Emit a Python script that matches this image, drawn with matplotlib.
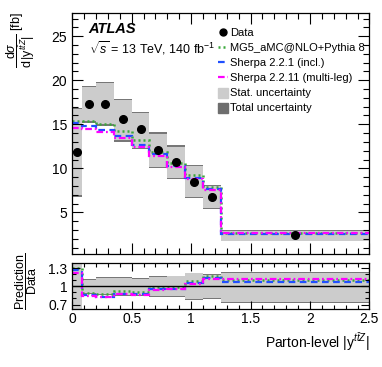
import numpy as np
import matplotlib
matplotlib.use('Agg')
import matplotlib.pyplot as plt
from matplotlib.lines import Line2D
from matplotlib.patches import Patch

plt.rcParams['font.family'] = ['Liberation Sans', 'DejaVu Sans']
plt.rcParams['mathtext.fontset'] = 'custom'
plt.rcParams['mathtext.rm'] = 'Liberation Sans'
plt.rcParams['mathtext.it'] = 'Liberation Sans:italic'
plt.rcParams['mathtext.bf'] = 'Liberation Sans:bold'

# bins in |y(ttZ)|
edges = np.array([0, 0.08, 0.2, 0.35, 0.5, 0.65, 0.8, 0.95, 1.1, 1.25, 2.5])

# measured cross section [fb]
data = np.array([11.9, 17.3, 17.3, 15.55, 14.45, 12.1, 10.7, 8.5, 6.7, 2.42])
total_hi = np.array([16.9, 19.4, 19.85, 17.9, 16.4, 14.1, 12.6, 10.4, 8.1, 3.0])
total_lo = np.array([6.8, 15.2, 14.8, 13.0, 12.2, 10.05, 8.8, 6.65, 5.35, 1.74])
stat_hi = np.array([16.75, 19.2, 19.65, 17.7, 16.25, 13.95, 12.45, 10.3, 8.0, 2.95])
stat_lo = np.array([6.95, 15.4, 15.0, 13.2, 12.35, 10.2, 8.95, 6.75, 5.45, 1.8])

# predictions
mg5 = np.array([15.4, 15.35, 15.0, 14.27, 13.2, 11.9, 10.57, 9.24, 7.84, 2.66])
sherpa221 = np.array([15.1, 14.85, 14.35, 13.7, 12.65, 11.6, 10.3, 8.93, 7.61, 2.58])
sherpa2211 = np.array([14.6, 14.47, 14.16, 13.48, 12.45, 11.4, 10.18, 8.78, 7.53, 2.71])

centers = 0.5 * (edges[1:] + edges[:-1])

fig = plt.figure(figsize=(3.82, 3.67), dpi=100)
ax = fig.add_axes([0.189, 0.307, 0.778, 0.657])
rax = fig.add_axes([0.189, 0.157, 0.778, 0.1256])

c_stat = '#cccccc'
c_tot = '#777777'
c_mg5 = '#3aa83a'
c_s221 = '#1f4fff'
c_s2211 = '#ff00ff'
ls_mg5 = (0, (0.8, 1.2))
ls_s221 = (0, (3, 2))
ls_s2211 = (0, (3, 1.3, 0.8, 1.3))

# main panel
ax.stairs(total_hi, edges, baseline=total_lo, fill=True, color=c_tot, lw=0)
ax.stairs(stat_hi, edges, baseline=stat_lo, fill=True, color=c_stat, lw=0)
ax.stairs(mg5, edges, baseline=None, color=c_mg5, ls=ls_mg5, lw=1.8)
ax.stairs(sherpa221, edges, baseline=None, color=c_s221, ls=ls_s221, lw=1.6)
ax.stairs(sherpa2211, edges, baseline=None, color=c_s2211, ls=ls_s2211, lw=1.6)
ax.plot(centers, data, 'o', color='black', ms=5.5, zorder=5)

ax.set_xlim(0, 2.5)
ax.set_ylim(0.25, 27.6)
ax.set_yticks([5, 10, 15, 20, 25])
ax.set_xticks(np.arange(0, 2.51, 0.5))
ax.set_xticks(np.arange(0, 2.51, 0.1), minor=True)
ax.set_yticks(np.arange(1, 27.6, 1), minor=True)
ax.tick_params(labelbottom=False)

# ratio panel
rax.stairs(total_hi / data, edges, baseline=total_lo / data, fill=True, color=c_tot, lw=0)
rax.stairs(stat_hi / data, edges, baseline=stat_lo / data, fill=True, color=c_stat, lw=0)
rax.axhline(1, color='black', lw=1)
rax.stairs(mg5 / data, edges, baseline=None, color=c_mg5, ls=ls_mg5, lw=1.8)
rax.stairs(sherpa221 / data, edges, baseline=None, color=c_s221, ls=ls_s221, lw=1.6)
rax.stairs(sherpa2211 / data, edges, baseline=None, color=c_s2211, ls=ls_s2211, lw=1.6)
rax.set_xlim(0, 2.5)
rax.set_ylim(0.62, 1.38)
rax.set_yticks([0.7, 1, 1.3])
rax.set_yticklabels(['0.7', '1', '1.3'])
rax.set_yticks(np.arange(0.7, 1.35, 0.1), minor=True)
rax.set_xticks(np.arange(0, 2.51, 0.5))
rax.set_xticklabels(['0', '0.5', '1', '1.5', '2', '2.5'])
rax.set_xticks(np.arange(0, 2.51, 0.1), minor=True)

for a in (ax, rax):
    a.tick_params(which='both', direction='in', top=True, right=True, labelsize=10, width=0.8)
    a.tick_params(which='major', length=8)
    a.tick_params(which='minor', length=4)
    for s in a.spines.values():
        s.set_linewidth(0.9)
rax.tick_params(which='major', length=6)
rax.tick_params(which='minor', length=3)
rax.tick_params(axis='x', pad=2)

# labels
fig.text(0.055, 0.967, r'$\dfrac{\mathrm{d}\sigma}{\mathrm{d}\,|\mathrm{y}^{t\bar{t}Z}|}$ [fb]',
         rotation=90, ha='center', va='top', fontsize=9)
fig.text(0.068, 0.235, r'$\dfrac{\mathrm{Prediction}}{\mathrm{Data}}$',
         rotation=90, ha='center', va='center', fontsize=9)
fig.text(0.967, 0.068, r'Parton-level $|\mathrm{y}^{t\bar{t}Z}|$', ha='right', va='center', fontsize=10)

ax.text(0.055, 0.935, 'ATLAS', transform=ax.transAxes, fontsize=10.5,
        fontweight='bold', fontstyle='italic', va='center')
ax.text(0.055, 0.855, r'$\sqrt{s}$ = 13 TeV, 140 fb$^{-1}$', transform=ax.transAxes,
        fontsize=9, va='center')

handles = [
    Line2D([], [], marker='o', ls='none', color='black', ms=5),
    Line2D([], [], color=c_mg5, ls=ls_mg5, lw=1.8),
    Line2D([], [], color=c_s221, ls=ls_s221, lw=1.6),
    Line2D([], [], color=c_s2211, ls=ls_s2211, lw=1.6),
    Patch(color=c_stat),
    Patch(color='#6e6e6e'),
]
labels = ['Data', 'MG5_aMC@NLO+Pythia 8', 'Sherpa 2.2.1 (incl.)',
          'Sherpa 2.2.11 (multi-leg)', 'Stat. uncertainty', 'Total uncertainty']
ax.legend(handles, labels, loc='upper left', bbox_to_anchor=(0.49, 0.94), frameon=False,
          fontsize=8, handlelength=0.9, handleheight=1.0, handletextpad=0.2,
          labelspacing=0.38, borderaxespad=0, borderpad=0)

fig.savefig('out.png', dpi=100)
